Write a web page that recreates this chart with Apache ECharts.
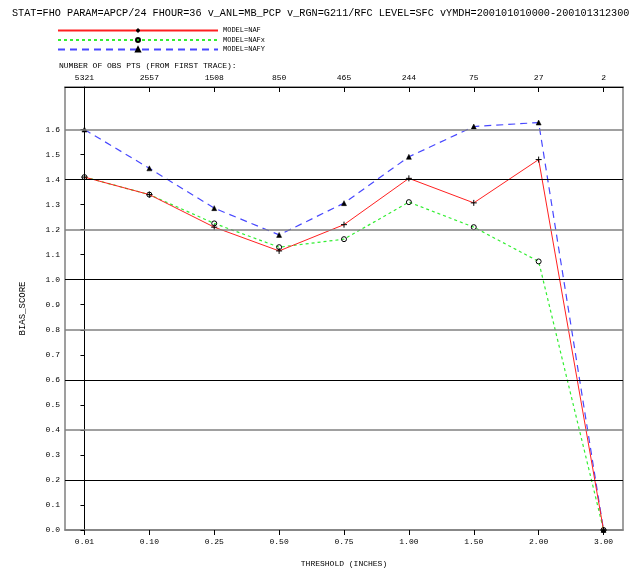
<!DOCTYPE html>
<html>
<head>
<meta charset="utf-8">
<script src="https://cdn.jsdelivr.net/npm/echarts@6/dist/echarts.min.js"></script>
<style>html,body{margin:0;padding:0;background:#fff;}#c{width:639px;height:573px;}</style>
</head>
<body>
<div id="c"></div>
<script>
// ---- data ----
var thresholds = ['0.01', '0.10', '0.25', '0.50', '0.75', '1.00', '1.50', '2.00', '3.00'];
var obsCounts = ['5321', '2557', '1508', '850', '465', '244', '75', '27', '2'];
var nafValues  = [1.41, 1.34, 1.21, 1.115, 1.22, 1.405, 1.307, 1.48, 0.0];
var nafxValues = [1.41, 1.34, 1.225, 1.13, 1.162, 1.31, 1.21, 1.073, 0.0];
var nafyValues = [1.60, 1.445, 1.286, 1.179, 1.306, 1.491, 1.612, 1.628, 0.0];
var yTickValues = [0, 0.1, 0.2, 0.3, 0.4, 0.5, 0.6, 0.7, 0.8, 0.9, 1.0, 1.1, 1.2, 1.3, 1.4, 1.5, 1.6];
var gridBlack = [0.2, 0.6, 1.0, 1.4];
var gridGray = [0.4, 0.8, 1.2, 1.6];
var seriesNames = ['MODEL=NAF', 'MODEL=NAFx', 'MODEL=NAFY'];
var titleText = 'STAT=FHO PARAM=APCP/24 FHOUR=36 v_ANL=MB_PCP v_RGN=G211/RFC LEVEL=SFC vYMDH=200101010000-200101312300';
var obsTitle = 'NUMBER OF OBS PTS (FROM FIRST TRACE):';

var FONT = '"Liberation Mono", "DejaVu Sans Mono", monospace';
var xIdx = thresholds.map(function (_, i) { return i; });
function pts(arr) { return arr.map(function (v, i) { return [i, v]; }); }

var markData = [];
gridBlack.forEach(function (v) { markData.push({ yAxis: v, lineStyle: { color: '#000', width: 1, type: 'solid' } }); });
gridGray.forEach(function (v) { markData.push({ yAxis: v, lineStyle: { color: '#808080', width: 1.5, type: 'solid' } }); });

var chart = echarts.init(document.getElementById('c'), null, { renderer: 'canvas' });
chart.setOption({
  animation: false,
  backgroundColor: '#fff',
  title: [
    { text: titleText, left: 7, top: 3, textStyle: { fontFamily: FONT, fontSize: 10.2, fontWeight: 'normal', color: '#000' } },
    { text: obsTitle, left: 54, top: 57, textStyle: { fontFamily: FONT, fontSize: 8, fontWeight: 'normal', color: '#000' } }
  ],
  legend: {
    orient: 'vertical', left: 52, top: 22,
    itemWidth: 160, itemHeight: 5, itemGap: 2.5,
    textStyle: { fontFamily: FONT, fontSize: 7, color: '#000' },
    data: seriesNames
  },
  grid: { left: 65, right: 16, top: 87, bottom: 41, show: true, borderColor: '#808080', borderWidth: 1.5 },
  xAxis: [{
    type: 'value', min: -0.3, max: 8.3, position: 'bottom',
    name: 'THRESHOLD (INCHES)', nameLocation: 'middle', nameGap: 30,
    nameTextStyle: { fontFamily: FONT, fontSize: 8, color: '#000' },
    axisLine: { show: true, lineStyle: { color: '#808080', width: 1.5 } },
    axisTick: { show: true, customValues: xIdx, length: 5, inside: false, lineStyle: { color: '#000' } },
    axisLabel: { customValues: xIdx, margin: 8, fontFamily: FONT, fontSize: 8, color: '#000',
      formatter: function (v) { return thresholds[Math.round(v)]; } },
    splitLine: { show: false }
  }, {
    type: 'value', min: -0.3, max: 8.3, position: 'top',
    axisLine: { show: true, lineStyle: { color: '#000', width: 1 } },
    axisTick: { show: true, customValues: xIdx, length: 5, inside: true, lineStyle: { color: '#000' } },
    axisLabel: { customValues: xIdx, margin: 5, fontFamily: FONT, fontSize: 8, color: '#000',
      formatter: function (v) { return obsCounts[Math.round(v)]; } },
    splitLine: { show: false }
  }],
  yAxis: {
    type: 'value', min: 0, max: 1.77,
    name: 'BIAS_SCORE', nameLocation: 'middle', nameGap: 38,
    nameTextStyle: { fontFamily: FONT, fontSize: 9, color: '#000' },
    axisLine: { show: true, lineStyle: { color: '#000', width: 1 } },
    axisTick: { show: true, customValues: yTickValues, length: 4, lineStyle: { color: '#000' } },
    axisLabel: { customValues: yTickValues, margin: 5, fontFamily: FONT, fontSize: 8, color: '#000',
      formatter: function (v) { return v.toFixed(1); } },
    splitLine: { show: false }
  },
  series: [
    {
      name: 'gridlines', type: 'line', data: [], silent: true, z: 1,
      markLine: { silent: true, symbol: 'none', label: { show: false }, animation: false, data: markData }
    },
    {
      name: seriesNames[0], type: 'line', data: pts(nafValues), z: 4,
      symbol: 'path://M3,0 L3,6 M0,3 L6,3', symbolSize: 6,
      itemStyle: { color: 'rgba(0,0,0,0)', borderColor: '#000', borderWidth: 1 },
      lineStyle: { color: '#ff2020', width: 1, type: 'solid' }
    },
    {
      name: seriesNames[1], type: 'line', data: pts(nafxValues), z: 3,
      symbol: 'circle', symbolSize: 5,
      itemStyle: { color: 'rgba(0,0,0,0)', borderColor: '#000', borderWidth: 1 },
      lineStyle: { color: '#33ee33', width: 1.2, type: [3, 3] }
    },
    {
      name: seriesNames[2], type: 'line', data: pts(nafyValues), z: 2,
      symbol: 'triangle', symbolSize: 5,
      itemStyle: { color: '#000', borderColor: '#000', borderWidth: 0.5 },
      lineStyle: { color: '#4848ff', width: 1.2, type: [7, 5] }
    }
  ]
});
</script>
</body>
</html>
